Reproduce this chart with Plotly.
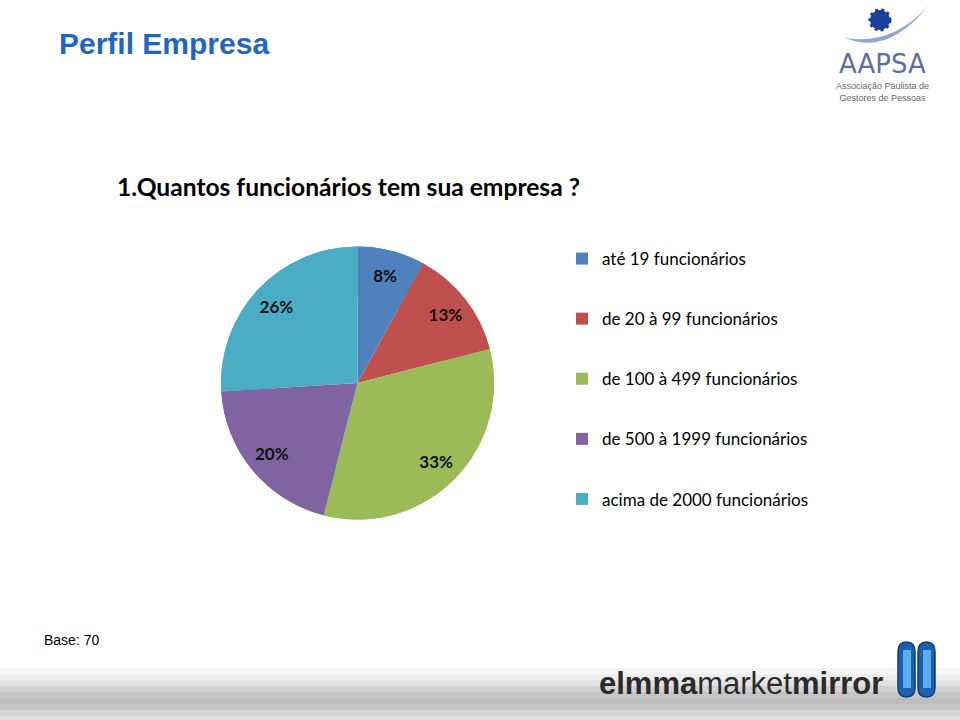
import plotly.graph_objects as go

categories = ["até 19 funcionários", "de 20 à 99 funcionários", "de 100 à 499 funcionários",
              "de 500 à 1999 funcionários", "acima de 2000 funcionários"]
percentages = [8, 13, 33, 20, 26]
colors = ["#4F81BD", "#C0504D", "#9BBB59", "#8064A2", "#4BACC6"]

W, H = 960, 720
pie_domain = dict(x=[221 / W, 494 / W], y=[1 - 520 / H, 1 - 246 / H])

fig = go.Figure()
# full pie (no text)
fig.add_trace(go.Pie(
    labels=categories, values=percentages, sort=False, direction="clockwise", rotation=0,
    marker=dict(colors=colors, line=dict(width=0)), textinfo="none",
    domain=pie_domain, showlegend=False, hoverinfo="label+percent",
))
# ring overlay, used to place the labels towards the outer part of each slice
fig.add_trace(go.Pie(
    labels=categories, values=percentages, sort=False, direction="clockwise", rotation=0, hole=0.63,
    marker=dict(colors=colors, line=dict(width=0)),
    texttemplate="<b>%{value}%</b>", textposition="inside", insidetextorientation="horizontal",
    textfont=dict(family="Lato", size=17, color="#111111"),
    domain=pie_domain, showlegend=False, hoverinfo="label+percent",
))

# legend entries
for name, col in zip(categories, colors):
    fig.add_trace(go.Scatter(x=[None], y=[None], mode="markers", name=name,
                             marker=dict(symbol="square", size=10, color=col),
                             legendgroup=name, showlegend=True))

shapes = []
annotations = []

annotations.append(dict(text="<b>Perfil Empresa</b>", x=57 / W, y=1 - 43 / H, xref="paper", yref="paper",
                        xanchor="left", yanchor="middle", showarrow=False,
                        font=dict(family="Liberation Sans", size=30, color="#1F66C2")))
annotations.append(dict(text="<b>1.Quantos funcionários tem sua empresa ?</b>", x=115 / W, y=1 - 187 / H,
                        xref="paper", yref="paper", xanchor="left", yanchor="middle", showarrow=False,
                        font=dict(family="Lato", size=24.6, color="#000000")))
annotations.append(dict(text="Base: 70", x=42 / W, y=1 - 640 / H, xref="paper", yref="paper",
                        xanchor="left", yanchor="middle", showarrow=False,
                        font=dict(family="Liberation Sans", size=14, color="#000000")))

# bottom gray band
band = [(668, "#f6f6f6"), (674, "#eeeeee"), (680, "#e2e2e2"), (686, "#d2d2d2"), (692, "#c4c4c4"),
        (698, "#bdbdbd"), (704, "#c6c6c6"), (710, "#d4d4d4"), (716, "#e0e0e0")]
for i, (y0, c) in enumerate(band):
    y1 = band[i + 1][0] if i + 1 < len(band) else 720
    shapes.append(dict(type="rect", xref="paper", yref="paper", x0=0, x1=1,
                       y0=1 - y1 / H, y1=1 - y0 / H, fillcolor=c, line=dict(width=0), layer="below"))

annotations.append(dict(text="<b>elmma</b>market<b>mirror</b>", x=885 / W, y=1 - 683 / H, xref="paper",
                        yref="paper", xanchor="right", yanchor="middle", showarrow=False,
                        font=dict(family="Liberation Sans", size=31, color="#2b2b2b")))
for x0, x1 in [(898, 915), (918, 935)]:
    shapes.append(dict(type="path", xref="paper", yref="paper",
                       path=(f"M {x0/W},{1-652/H} Q {x0/W},{1-642/H} {(x0+x1)/2/W},{1-642/H} "
                             f"Q {x1/W},{1-642/H} {x1/W},{1-652/H} L {x1/W},{1-687/H} "
                             f"Q {x1/W},{1-697/H} {(x0+x1)/2/W},{1-697/H} Q {x0/W},{1-697/H} {x0/W},{1-687/H} Z"),
                       fillcolor="#1d5fae", line=dict(color="#0d3a78", width=1.5)))
    shapes.append(dict(type="rect", xref="paper", yref="paper", x0=(x0 + 5) / W, x1=(x1 - 4) / W,
                       y0=1 - 688 / H, y1=1 - 650 / H, fillcolor="#5aaeea", line=dict(width=0)))

# AAPSA logo
shapes.append(dict(type="circle", xref="paper", yref="paper", x0=870 / W, x1=890 / W,
                   y0=1 - 30 / H, y1=1 - 10 / H, fillcolor="#1c3f9c", line=dict(color="#1c3f9c", width=3, dash="dot")))
shapes.append(dict(type="path", xref="paper", yref="paper",
                   path=f"M {845/W},{1-38/H} Q {888/W},{1-56/H} {928/W},{1-6/H} Q {892/W},{1-46/H} {845/W},{1-38/H} Z",
                   fillcolor="#8fa6d6", line=dict(width=0)))
annotations.append(dict(text="AAPSA", x=882 / W, y=1 - 64 / H, xref="paper", yref="paper", xanchor="center",
                        yanchor="middle", showarrow=False,
                        font=dict(family="DejaVu Sans", size=26, color="#5b6fa6")))
annotations.append(dict(text="Associação Paulista de<br>Gestores de Pessoas", x=882 / W, y=1 - 92 / H,
                        xref="paper", yref="paper", xanchor="center", yanchor="middle", showarrow=False,
                        font=dict(family="Liberation Sans", size=9, color="#666666")))

fig.update_layout(
    width=W, height=H, margin=dict(l=0, r=0, t=0, b=0),
    paper_bgcolor="white", plot_bgcolor="white",
    xaxis=dict(visible=False), yaxis=dict(visible=False),
    legend=dict(x=562 / W, y=1 - 241 / H, xanchor="left", yanchor="top", bgcolor="rgba(0,0,0,0)",
                font=dict(family="Lato", size=17, color="#000000"), tracegroupgap=35,
                itemwidth=30, itemsizing="constant"),
    shapes=shapes, annotations=annotations,
)

fig.write_html("out.html")
